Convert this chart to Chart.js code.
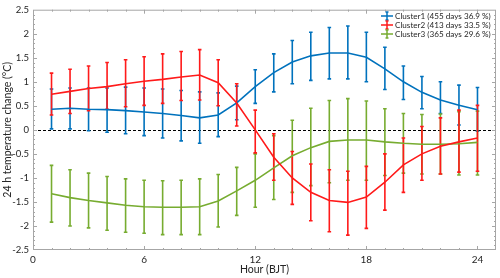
<!DOCTYPE html>
<html>
<head>
<meta charset="utf-8">
<script src="https://cdn.jsdelivr.net/npm/chart.js@4.4.0/dist/chart.umd.min.js"></script>
<title>24 h temperature change</title>
<style>
  body { margin: 0; background: #fff; }
</style>
</head>
<body>
<canvas id="myChart" width="500" height="278"></canvas>
<script>
// hours of the day
var hours = [1,2,3,4,5,6,7,8,9,10,11,12,13,14,15,16,17,18,19,20,21,22,23,24];

// Cluster1 : mean, top and bottom of the error bar
var c1Mean = [0.43,0.45,0.43,0.42,0.40,0.37,0.34,0.30,0.25,0.31,0.56,0.90,1.19,1.41,1.54,1.60,1.60,1.51,1.27,1.00,0.78,0.62,0.51,0.42];
var c1High = [0.85,0.87,0.87,0.87,0.89,0.87,0.85,0.82,0.79,0.77,0.91,1.25,1.58,1.86,2.03,2.13,2.16,2.03,1.72,1.33,1.11,1.00,0.93,0.88];
var c1Low  = [0.02,0.02,-0.02,-0.05,-0.08,-0.12,-0.17,-0.23,-0.28,-0.14,0.21,0.55,0.79,0.96,1.03,1.06,1.06,1.00,0.84,0.63,0.44,0.34,0.10,-0.03];

// Cluster2
var c2Mean = [0.74,0.80,0.86,0.90,0.96,1.01,1.05,1.10,1.14,0.98,0.56,0.00,-0.57,-1.00,-1.30,-1.47,-1.51,-1.40,-1.09,-0.73,-0.50,-0.34,-0.25,-0.17];
var c2High = [1.18,1.26,1.33,1.40,1.46,1.52,1.58,1.63,1.67,1.46,0.96,0.41,-0.08,-0.45,-0.71,-0.83,-0.86,-0.76,-0.50,-0.17,0.07,0.25,0.41,0.51];
var c2Low  = [0.31,0.34,0.40,0.43,0.48,0.51,0.55,0.61,0.62,0.50,0.08,-0.48,-1.05,-1.55,-1.89,-2.12,-2.19,-2.05,-1.67,-1.30,-1.05,-0.92,-0.88,-0.86];

// Cluster3
var c3Mean = [-1.33,-1.41,-1.47,-1.52,-1.57,-1.60,-1.61,-1.61,-1.60,-1.48,-1.27,-1.05,-0.79,-0.54,-0.37,-0.24,-0.21,-0.21,-0.25,-0.28,-0.30,-0.30,-0.29,-0.26];
var c3High = [-0.74,-0.83,-0.90,-0.97,-1.02,-1.05,-1.06,-1.05,-1.02,-0.93,-0.78,-0.50,-0.12,0.20,0.45,0.61,0.65,0.60,0.44,0.34,0.32,0.33,0.38,0.39];
var c3Low  = [-1.92,-2.00,-2.04,-2.09,-2.13,-2.15,-2.18,-2.18,-2.18,-2.02,-1.78,-1.61,-1.45,-1.30,-1.16,-1.10,-1.05,-1.05,-0.95,-0.90,-0.92,-0.92,-0.94,-0.94];

var labels = ['Cluster1 (455 days 36.9 %)', 'Cluster2 (413 days 33.5 %)', 'Cluster3 (365 days 29.6 %)'];
var xTicks = [0, 6, 12, 18, 24];

var colors = ['#0072BD', '#FF1A1A', '#77AC30'];
var highs = [c1High, c2High, c3High];
var lows = [c1Low, c2Low, c3Low];

var fontFam = 'Lato, "Open Sans", sans-serif';
var frameColor = '#a6a6a6';
var textColor = '#262626';

function pts(arr) {
  return hours.map(function (h, i) { return { x: h, y: arr[i] }; });
}

// dashed zero line + error bars, drawn under the mean lines
var errorBars = {
  id: 'errorBars',
  beforeDatasetsDraw: function (chart) {
    var ctx = chart.ctx, xs = chart.scales.x, ys = chart.scales.y, a = chart.chartArea;
    ctx.save();
    ctx.strokeStyle = '#000';
    ctx.lineWidth = 1;
    ctx.setLineDash([3, 2]);
    ctx.beginPath();
    ctx.moveTo(a.left, Math.round(ys.getPixelForValue(0)) + 0.5);
    ctx.lineTo(a.right, Math.round(ys.getPixelForValue(0)) + 0.5);
    ctx.stroke();
    ctx.setLineDash([]);
    [0, 2, 1].forEach(function (k) {
      ctx.strokeStyle = colors[k];
      ctx.lineWidth = 1.6;
      for (var i = 0; i < hours.length; i++) {
        var x = xs.getPixelForValue(hours[i]);
        var yt = ys.getPixelForValue(highs[k][i]);
        var yb = ys.getPixelForValue(lows[k][i]);
        ctx.beginPath();
        ctx.moveTo(x, yt); ctx.lineTo(x, yb);
        ctx.moveTo(x - 1.8, yt); ctx.lineTo(x + 1.8, yt);
        ctx.moveTo(x - 1.8, yb); ctx.lineTo(x + 1.8, yb);
        ctx.stroke();
      }
    });
    ctx.restore();
  },
  afterDraw: function (chart) {
    var ctx = chart.ctx, xs = chart.scales.x, ys = chart.scales.y, a = chart.chartArea;
    ctx.save();
    // frame
    ctx.strokeStyle = frameColor;
    ctx.lineWidth = 1;
    ctx.strokeRect(a.left + 0.5, a.top + 0.5, a.right - a.left - 1, a.bottom - a.top - 1);
    // inward ticks on all four sides
    ctx.beginPath();
    for (var h = 1; h < 25; h++) {
      var x = Math.round(xs.getPixelForValue(h)) + 0.5;
      var len = (h % 6 === 0) ? 4 : 2;
      ctx.moveTo(x, a.bottom); ctx.lineTo(x, a.bottom - len);
      ctx.moveTo(x, a.top); ctx.lineTo(x, a.top + len);
    }
    for (var v = -24; v <= 24; v++) {
      var y = Math.round(ys.getPixelForValue(v / 10)) + 0.5;
      var l2 = (v % 5 === 0) ? 4 : 2;
      ctx.moveTo(a.left, y); ctx.lineTo(a.left + l2, y);
      ctx.moveTo(a.right, y); ctx.lineTo(a.right - l2, y);
    }
    ctx.stroke();

    // legend, top right inside the plot
    ctx.font = '10px ' + fontFam;
    var w = ctx.measureText(labels[0]).width;
    var fs = Math.min(11, 10 * 96 / w);
    ctx.font = fs.toFixed(2) + 'px ' + fontFam;
    ctx.textBaseline = 'middle';
    ctx.textAlign = 'left';
    var rows = [16, 25, 34];
    for (var k = 0; k < 3; k++) {
      var cy = rows[k];
      ctx.strokeStyle = colors[k];
      ctx.lineWidth = 1.5;
      ctx.beginPath();
      ctx.moveTo(381, cy); ctx.lineTo(393, cy);
      ctx.moveTo(387, cy - 4); ctx.lineTo(387, cy + 4);
      ctx.moveTo(385.5, cy - 4); ctx.lineTo(388.5, cy - 4);
      ctx.moveTo(385.5, cy + 4); ctx.lineTo(388.5, cy + 4);
      ctx.stroke();
      ctx.fillStyle = textColor;
      ctx.fillText(labels[k], 395, cy);
    }
    ctx.restore();
  }
};

var data = {
  datasets: [
    { label: labels[0], data: pts(c1Mean), borderColor: colors[0], order: 3 },
    { label: labels[1], data: pts(c2Mean), borderColor: colors[1], order: 1 },
    { label: labels[2], data: pts(c3Mean), borderColor: colors[2], order: 2 }
  ]
};

var config = {
  type: 'line',
  data: data,
  options: {
    responsive: false,
    animation: false,
    layout: { padding: { top: 8, right: 4, left: 0, bottom: 0 } },
    elements: {
      line: { borderWidth: 1.6, tension: 0, fill: false },
      point: { radius: 0 }
    },
    plugins: {
      legend: { display: false },
      tooltip: { enabled: false }
    },
    scales: {
      x: {
        type: 'linear',
        min: 0,
        max: 25,
        afterBuildTicks: function (s) { s.ticks = xTicks.map(function (v) { return { value: v }; }); },
        afterFit: function (s) { s.height = 28; },
        grid: { display: false, drawTicks: false },
        border: { display: false },
        ticks: { color: textColor, font: { family: fontFam, size: 10 }, padding: 4, maxRotation: 0 },
        title: { display: true, text: 'Hour (BJT)', color: textColor, font: { family: fontFam, size: 10.5 }, padding: { top: 0, bottom: 2 } }
      },
      y: {
        min: -2.5,
        max: 2.5,
        afterFit: function (s) { s.width = 33; },
        grid: { display: false, drawTicks: false },
        border: { display: false },
        ticks: {
          stepSize: 0.5,
          color: textColor,
          font: { family: fontFam, size: 9.5 },
          padding: 4,
          callback: function (v) { return String(Number(v.toFixed(1))); }
        },
        title: { display: true, text: '24 h temperature change (°C)', color: textColor, font: { family: fontFam, size: 10.5 }, padding: { top: 1, bottom: 0 } }
      }
    }
  },
  plugins: [errorBars]
};

var myChart = new Chart(document.getElementById('myChart'), config);
</script>
</body>
</html>
